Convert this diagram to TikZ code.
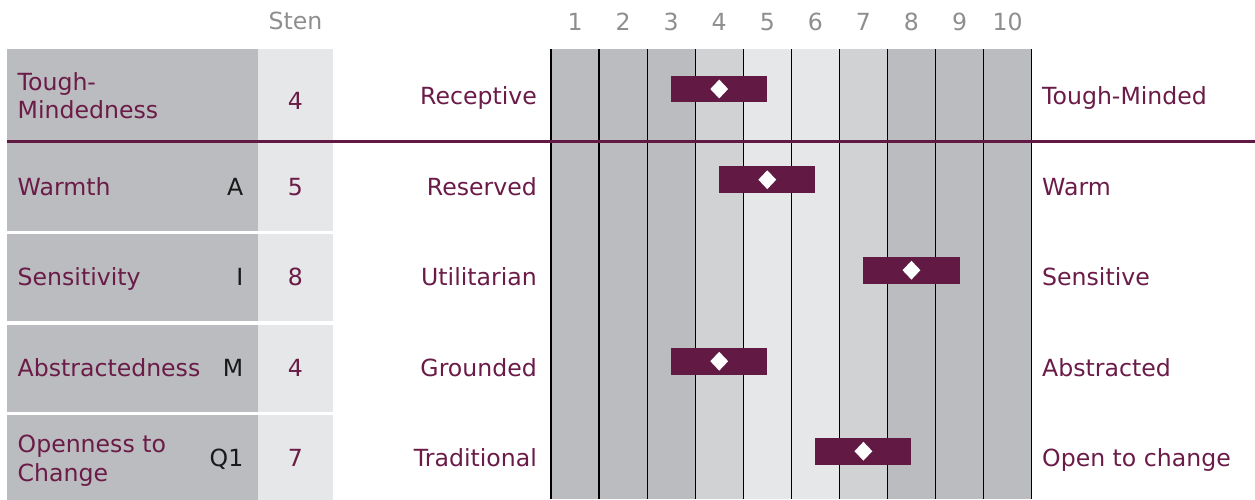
\documentclass[tikz,border=0pt]{standalone}
\usepackage{fontspec}
\setmainfont{DejaVu Sans}
\usetikzlibrary{positioning, shapes.geometric}
\definecolor{xpurple}{HTML}{621A45}
\definecolor{xtext}{HTML}{6A1B47}
\definecolor{xhead}{HTML}{8E8E8E}
\definecolor{xdark}{HTML}{BBBCBF}
\definecolor{xmid}{HTML}{D1D2D4}
\definecolor{xlight}{HTML}{E6E7E8}
\tikzset{
	head/.style = {text=xhead, inner sep=0pt},
	trait/.style = {text=xtext, anchor=west, align=left, inner sep=0pt, text depth=0pt},
	factor/.style = {text=black!90, anchor=east, inner sep=0pt, text depth=0pt},
	score/.style = {text=xtext, inner sep=0pt, text depth=0pt},
	pole/.style = {text=xtext, anchor=#1, inner sep=0pt, text depth=0pt},
	bar/.style = {fill=xpurple, inner sep=0pt, minimum width=96.12pt, minimum height=26.7pt},
	marker/.style = {diamond, fill=white, inner sep=0pt, minimum width=18pt, minimum height=19pt},
	grid/.style = {black, line width=1.2pt},
}

\begin{document}
\begin{tikzpicture}[x=1pt, y=-1pt, font=\fontsize{23.6}{28.7}\selectfont]
	\useasboundingbox (0,0) rectangle (1255,499);
	% header
	\node[head] (sten) at (295.5,21) {Sten};
	\foreach \n in {1,...,10}
		\node[head] (num\n) at ({551+48.06*(\n-0.5)},22) {\n};
	% scale columns
	\foreach \n/\c in {1/xdark,2/xdark,3/xdark,4/xmid,5/xlight,6/xlight,7/xmid,8/xdark,9/xdark,10/xdark}
		\fill[\c] ({551+48.06*(\n-1)},49) rectangle ({551+48.06*\n},499);
	\foreach \n in {0,...,10}
		\draw[grid] ({551+48.06*\n},49) -- ({551+48.06*\n},499);
	% global scale
	\fill[xdark] (7,49) rectangle (258,141);
	\fill[xlight] (258,49) rectangle (333,141);
	\node[trait] (trait1) at (17.5,95.5) {Tough-\\Mindedness};
	\node[score] (sten1) at (295.5,101) {4};
	\node[pole=east] (low1) at (537,95.5) {Receptive};
	\node[pole=west] (high1) at (1042,95.5) {Tough-Minded};
	\node[bar] (bar1) at ({551+48.06*3.5},89) {};
	\node[marker] (dot1) at (bar1) {};
	\draw[xpurple, line width=3pt] (7,141.3) -- (1255,141.3);
	% primary factors
	\foreach \i/\y/\name/\fac/\s/\lo/\hi in {
		2/186.5/Warmth/A/5/Reserved/Warm,
		3/277/Sensitivity/I/8/Utilitarian/Sensitive,
		4/368/Abstractedness/M/4/Grounded/Abstracted,
		5/458/{Openness to\\Change}/Q1/7/Traditional/Open to change} {
		\fill[xdark] (7,\y-43.5) rectangle (258,\y+44);
		\fill[xlight] (258,\y-43.5) rectangle (333,\y+44);
		\node[trait] (trait\i) at (17.5,\y) {\name};
		\node[factor] (fac\i) at (243.5,\y) {\fac};
		\node[score] (sten\i) at (295.5,\y) {\s};
		\node[pole=east] (low\i) at (537,\y) {\lo};
		\node[pole=west] (high\i) at (1042,\y) {\hi};
		\node[bar] (bar\i) at ({551+48.06*(\s-0.5)},\y-6.8) {};
		\node[marker] (dot\i) at (bar\i) {};
	}
\end{tikzpicture}
\end{document}
